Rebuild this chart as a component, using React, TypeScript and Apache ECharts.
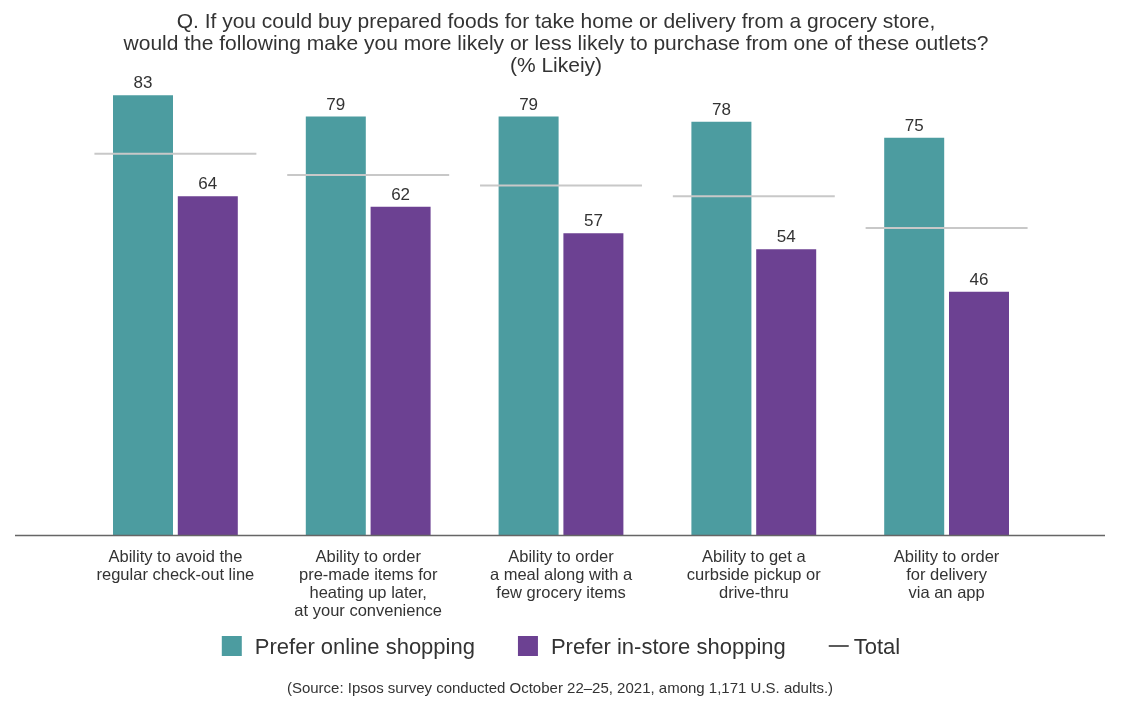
import React, { useEffect, useRef } from "react";
import * as echarts from "echarts";

const categories = [
  "Ability to avoid the\nregular check-out line",
  "Ability to order\npre-made items for\nheating up later,\nat your convenience",
  "Ability to order\na meal along with a\nfew grocery items",
  "Ability to get a\ncurbside pickup or\ndrive-thru",
  "Ability to order\nfor delivery\nvia an app",
];
const onlineValues = [83, 79, 79, 78, 75];
const inStoreValues = [64, 62, 57, 54, 46];
const totalValues = [72, 68, 66, 64, 58];

const titleText =
  "Q. If you could buy prepared foods for take home or delivery from a grocery store,\nwould the following make you more likely or less likely to purchase from one of these outlets?\n(% Likeiy)";
const sourceText =
  "(Source: Ipsos survey conducted October 22\u201325, 2021, among 1,171 U.S. adults.)";

const FONT = "'Liberation Sans', Arial, Helvetica, sans-serif";
const TEAL = "#4c9ca0";
const PURPLE = "#6c4192";
const TEXT = "#333333";

export default function App() {
  const ref = useRef<HTMLDivElement>(null);
  useEffect(() => {
    if (!ref.current) return;
    const chart = echarts.init(ref.current, null, { renderer: "svg" });
    const option: any = {
      animation: false,
      textStyle: { fontFamily: FONT, color: TEXT },
      title: {
        text: titleText,
        left: 556,
        top: 9,
        textAlign: "center",
        padding: 0,
        textStyle: {
          fontFamily: FONT,
          fontSize: 21,
          fontWeight: "normal",
          color: TEXT,
          lineHeight: 22,
        },
      },
      grid: { left: 79, right: 79, top: 5, bottom: 176, containLabel: false },
      legend: {
        bottom: 50,
        left: "center",
        itemWidth: 20,
        itemHeight: 20,
        itemGap: 43,
        textStyle: {
          fontFamily: FONT,
          fontSize: 22,
          color: TEXT,
          padding: [0, 0, 0, 8],
        },
        data: [
          { name: "Prefer online shopping", icon: "rect" },
          { name: "Prefer in-store shopping", icon: "rect" },
          {
            name: "Total",
            icon: "path://M0,0L20,0L20,1.6L0,1.6Z",
            itemStyle: { color: TEXT },
            textStyle: { padding: [0, 0, 0, 0] },
          },
        ],
      },
      xAxis: {
        type: "category",
        data: categories,
        axisLine: { show: false },
        axisTick: { show: false },
        axisLabel: {
          interval: 0,
          fontFamily: FONT,
          fontSize: 16.5,
          lineHeight: 18,
          color: TEXT,
          margin: 11,
        },
      },
      yAxis: {
        type: "value",
        min: 0,
        max: 100,
        show: false,
        splitLine: { show: false },
      },
      series: [
        {
          name: "Prefer online shopping",
          type: "bar",
          data: onlineValues,
          barWidth: 60,
          barGap: "8%",
          itemStyle: { color: TEAL },
          label: {
            show: true,
            position: "top",
            distance: 4,
            fontFamily: FONT,
            fontSize: 17,
            color: TEXT,
          },
          z: 2,
        },
        {
          name: "Prefer in-store shopping",
          type: "bar",
          data: inStoreValues,
          barWidth: 60,
          itemStyle: { color: PURPLE },
          label: {
            show: true,
            position: "top",
            distance: 4,
            fontFamily: FONT,
            fontSize: 17,
            color: TEXT,
          },
          z: 2,
        },
        {
          name: "Total",
          type: "custom",
          data: totalValues.map((v, i) => [i, v]),
          encode: { x: 0, y: 1 },
          itemStyle: { color: TEXT },
          z: 5,
          renderItem: (params: any, api: any) => {
            const c = api.coord([api.value(0), api.value(1)]);
            const w = api.size([1, 0])[0];
            const half = w * 0.42;
            return {
              type: "line",
              shape: { x1: c[0] - half, y1: c[1], x2: c[0] + half, y2: c[1] },
              style: { stroke: "#c8c8c8", lineWidth: 2 },
            };
          },
        },
      ],
      graphic: [
        {
          type: "line",
          shape: { x1: 15, y1: 535.5, x2: 1105, y2: 535.5 },
          style: { stroke: "#666666", lineWidth: 1.3 },
          z: 10,
        },
        {
          type: "text",
          x: 560,
          y: 680,
          style: {
            text: sourceText,
            fontFamily: FONT,
            fontSize: 15,
            fill: TEXT,
            textAlign: "center",
          },
        },
      ],
    };
    chart.setOption(option);
    return () => chart.dispose();
  }, []);
  return (
    <div
      ref={ref}
      style={{ position: "fixed", left: 0, top: 0, width: 1122, height: 712 }}
    />
  );
}
